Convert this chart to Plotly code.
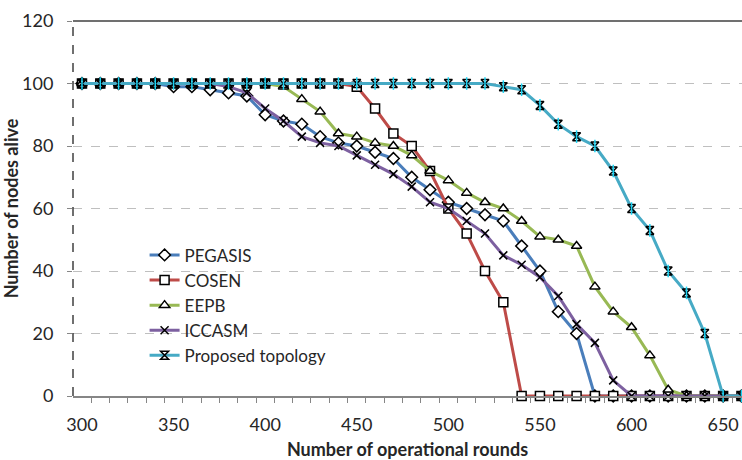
import plotly.graph_objects as go

rounds = list(range(300, 661, 10))

pegasis = [100, 100, 100, 100, 100, 99, 99, 98, 97, 96,
           90, 88, 87, 83, 81, 80, 78, 76, 70, 66,
           62, 60, 58, 56, 48, 40, 27, 20, 0, 0,
           0, 0, 0, 0, 0, 0, 0]
cosen = [100, 100, 100, 100, 100, 100, 100, 100, 100, 100,
         100, 100, 100, 100, 100, 99, 92, 84, 80, 72,
         60, 52, 40, 30, 0, 0, 0, 0, 0, 0,
         0, 0, 0, 0, 0, 0, 0]
eepb = [100, 100, 100, 100, 100, 100, 100, 100, 100, 100,
        100, 99, 95, 91, 84, 83, 81, 80, 77, 72,
        69, 65, 62, 60, 56, 51, 50, 48, 35, 27,
        22, 13, 2, 0, 0, 0, 0]
iccasm = [100, 100, 100, 100, 100, 100, 100, 100, 99, 97,
          92, 88, 83, 81, 80, 77, 74, 71, 67, 62,
          60, 56, 52, 45, 42, 38, 32, 23, 17, 5,
          0, 0, 0, 0, 0, 0, 0]
proposed = [100, 100, 100, 100, 100, 100, 100, 100, 100, 100,
            100, 100, 100, 100, 100, 100, 100, 100, 100, 100,
            100, 100, 100, 99, 98, 93, 87, 83, 80, 72,
            60, 53, 40, 33, 20, 0, 0]

x_tick_vals = [300, 350, 400, 450, 500, 550, 600, 650]
y_tick_vals = [0, 20, 40, 60, 80, 100, 120]

FONT = "Lato, 'Open Sans', sans-serif"
TXT = "#262626"

series = [
    ("PEGASIS", pegasis, "#4A7EBB", "diamond", 9),
    ("COSEN", cosen, "#BE4B48", "square", 9),
    ("EEPB", eepb, "#98B954", "triangle-up", 9),
    ("ICCASM", iccasm, "#7D60A0", "x-thin-open", 8),
    ("Proposed topology", proposed, "#46AAC5", "hourglass-open", 8),
]

fig = go.Figure()
for name, vals, col, sym, sz in series:
    if sym.endswith("open"):
        mk = dict(symbol=sym, size=sz, color="black", line=dict(color="black", width=1.5))
    else:
        mk = dict(symbol=sym, size=sz, color="white", line=dict(color="black", width=1.5))
    fig.add_trace(go.Scatter(x=rounds, y=vals, name=name, mode="lines+markers",
                             line=dict(color=col, width=3), marker=mk,
                             cliponaxis=False))
    if name == "Proposed topology":
        fig.add_trace(go.Scatter(x=rounds, y=vals, mode="markers", showlegend=False,
                                 marker=dict(symbol="line-ns-open", size=9,
                                             line=dict(color="black", width=1.5)),
                                 cliponaxis=False, hoverinfo="skip"))

fig.update_layout(
    width=742, height=460,
    margin=dict(l=73, r=0, t=21, b=64),
    paper_bgcolor="white", plot_bgcolor="white",
    font=dict(family=FONT, size=18, color=TXT),
    showlegend=True,
    legend=dict(x=0.107, y=0.423, xanchor="left", yanchor="top",
                bgcolor="rgba(0,0,0,0)", font=dict(size=17, color=TXT),
                tracegroupgap=0, itemwidth=30),
    xaxis=dict(range=[295.1, 660.3], tickvals=x_tick_vals, ticks="",
               showgrid=False, zeroline=False,
               showline=True, linecolor="#868686", linewidth=1.5,
               ticklabelstandoff=12,
               minor=dict(tick0=295, dtick=10, ticks="outside", ticklen=5,
                          tickcolor="#868686", showgrid=False),
               title=dict(text="<b>Number of operational rounds</b>",
                          font=dict(size=18, color=TXT), standoff=10)),
    yaxis=dict(range=[0, 120], tickvals=y_tick_vals, ticks="outside", ticklen=5,
               tickcolor="#868686", showgrid=True, gridcolor="#BFBFBF",
               griddash="dash", gridwidth=1, zeroline=False, showline=False,
               ticklabelstandoff=10,
               title=dict(text="<b>Number of nodes alive</b>",
                          font=dict(size=18, color=TXT), standoff=4)),
)

# plot-area frame: dashed left edge, solid top edge
fig.add_shape(type="line", xref="paper", yref="paper", x0=0, x1=0, y0=0, y1=1,
              line=dict(color="#404040", width=1.5, dash="dash"))
fig.add_shape(type="line", xref="paper", yref="paper", x0=0, x1=1, y0=1, y1=1,
              line=dict(color="#404040", width=1.5))

fig.write_html("out.html")
